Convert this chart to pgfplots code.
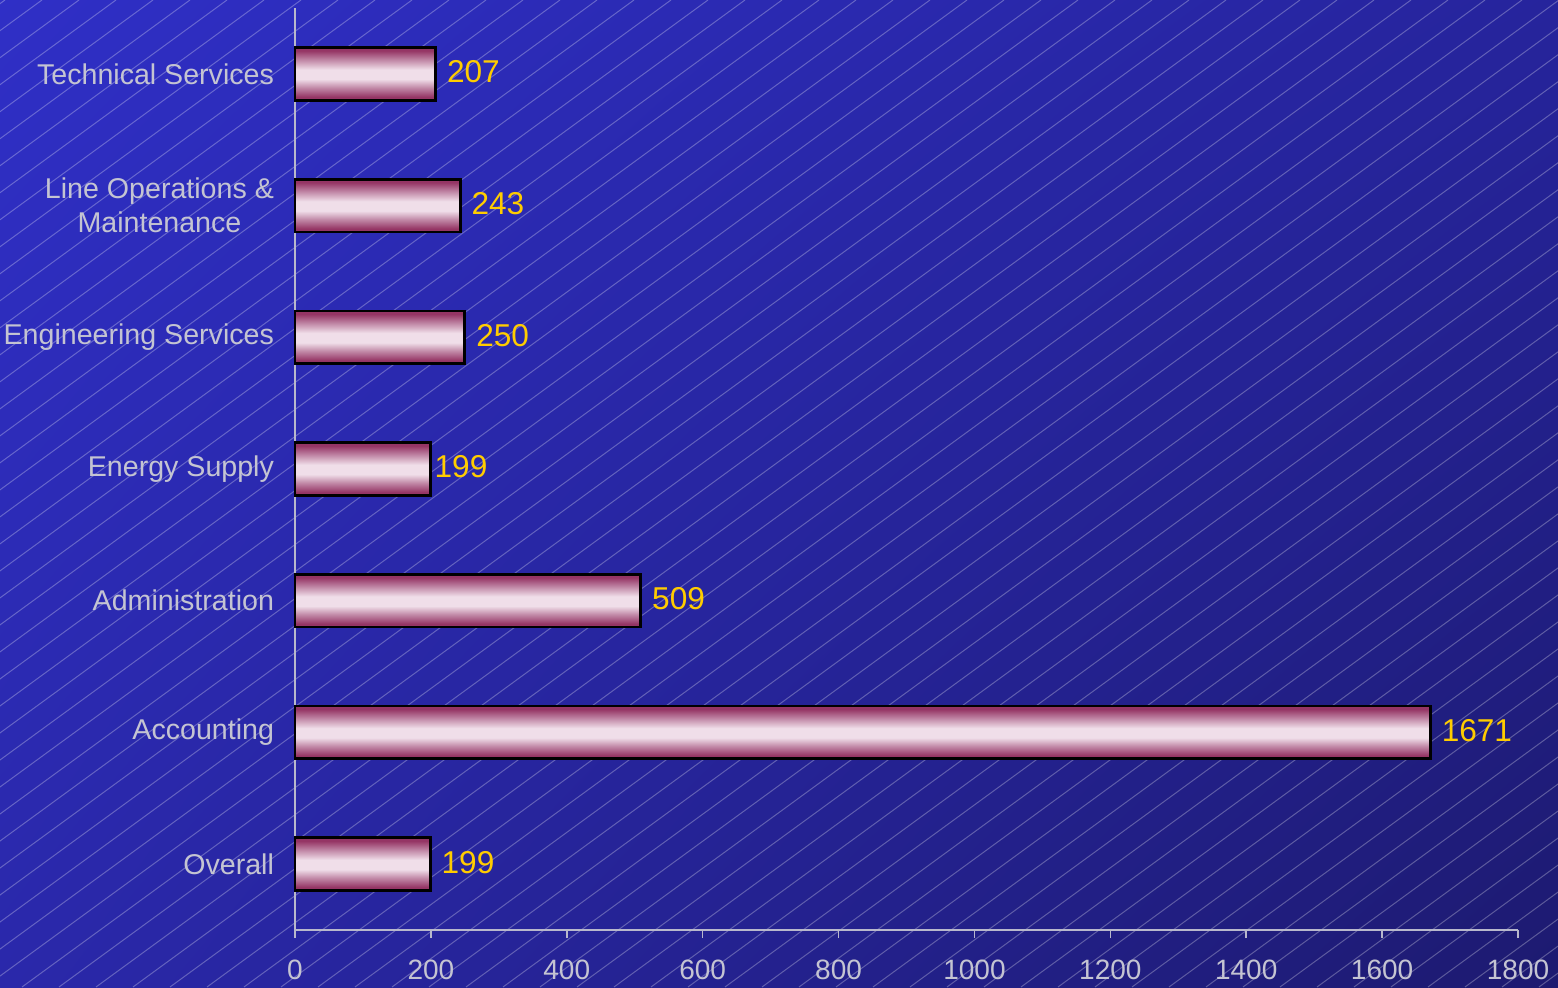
\documentclass[border=0pt]{standalone}
\usepackage{fontspec}
\setmainfont{Liberation Sans}
\usepackage{pgfplots}
\pgfplotsset{compat=1.18}
\usetikzlibrary{shadings}
\definecolor{bgul}{HTML}{2F2FC6}
\definecolor{bgur}{HTML}{26249C}
\definecolor{bgll}{HTML}{2A28AA}
\definecolor{bglr}{HTML}{1D1A70}
\definecolor{axisgray}{HTML}{B8B8CC}
\definecolor{txtgray}{HTML}{C4C4D2}
\definecolor{valyellow}{HTML}{FFCC00}
\definecolor{bdark}{HTML}{953565}
\definecolor{bmid}{HTML}{C28AA8}
\definecolor{blight}{HTML}{F0DEE9}
\pgfdeclareverticalshading{barshade}{100bp}{color(0bp)=(bdark); color(25bp)=(bdark); color(28bp)=(bdark); color(37bp)=(bmid); color(45bp)=(blight); color(54bp)=(blight); color(63bp)=(bmid); color(72bp)=(bdark); color(75bp)=(bdark); color(100bp)=(bdark)}
\pgfplotsset{
  onebar/.style={draw=black, line width=1.4pt, shade, shading=barshade,
    nodes near coords, nodes near coords style={font=\fontsize{15.8}{18}\selectfont, text=valyellow, anchor=west, inner sep=1.5pt, xshift=3.5pt, yshift=1pt}},
}
\begin{document}
\begin{tikzpicture}
\useasboundingbox (0,0) rectangle (779pt,493.5pt);
\shade[upper left=bgul, upper right=bgur, lower left=bgll, lower right=bglr] (0,0) rectangle (779pt,493.5pt);
\begin{scope}
\clip (0,0) rectangle (779pt,493.5pt);
\foreach \i in {-38,...,43}{
  \draw[white, opacity=0.28, line width=0.5pt] ({\i*18.5pt+11pt},0) -- ({\i*18.5pt+11pt+676pt},493.5pt);
}
\end{scope}
\begin{axis}[
  at={(147.5pt,28.5pt)}, anchor=south west,
  scale only axis, width=611.5pt, height=461pt,
  xmin=0, xmax=1800, ymin=-0.5, ymax=6.5,
  xbar, bar width=0.4,
  every axis plot/.append style={bar shift=0pt},
  axis x line*=bottom, axis y line*=left,
  axis line style={draw=axisgray, line width=0.75pt},
  xtick={0,200,...,1800},
  ytick={0,1,2,3,4,5,6},
  yticklabels={Overall,Accounting,Administration,Energy Supply,Engineering Services,{Line Operations \&\\Maintenance},Technical Services},
  tick align=outside,
  major tick length=4pt,
  x tick style={draw=axisgray, line width=0.75pt},
  y tick style={draw=none},
  /pgf/number format/1000 sep={},
  /pgf/number format/assume math mode=true,
  tick label style={font=\fontsize{14.3}{17}\selectfont, text=txtgray},
  yticklabel style={align=center, xshift=-3pt},
  xticklabel style={font=\fontsize{14}{17}\selectfont, yshift=-7.5pt},
  clip=false,
]
\addplot[onebar] coordinates {(199,0)};
\addplot[onebar] coordinates {(1671,1)};
\addplot[onebar] coordinates {(509,2)};
\addplot[onebar, every node near coord/.append style={xshift=-3.5pt}] coordinates {(199,3)};
\addplot[onebar] coordinates {(250,4)};
\addplot[onebar] coordinates {(243,5)};
\addplot[onebar] coordinates {(207,6)};
\end{axis}
\end{tikzpicture}
\end{document}
